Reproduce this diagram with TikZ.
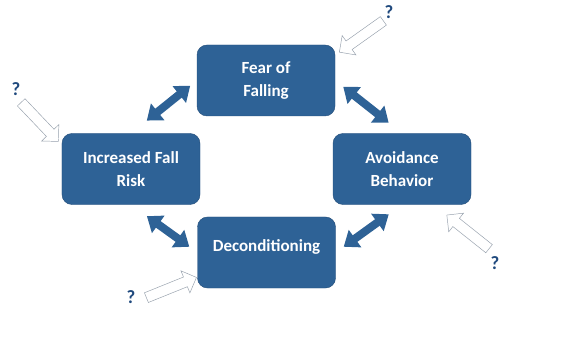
\documentclass[tikz,border=0pt]{standalone}
\usepackage{fontspec}
\setmainfont{Carlito}
\usepackage{tikz}
\usetikzlibrary{arrows.meta,positioning,calc,shapes.arrows}
\usepackage{xcolor}
\definecolor{fofblue}{RGB}{46,98,150}
\definecolor{fofedge}{RGB}{36,78,122}
\definecolor{fofgray}{RGB}{150,160,172}
\definecolor{fofmark}{RGB}{31,73,125}

\begin{document}
\begin{tikzpicture}[x=0.03cm,y=-0.03cm,
    box/.style={draw=fofedge,fill=fofblue,rounded corners=0.3cm,minimum width=4.14cm,minimum height=2.13cm,align=center,text=white,font=\fontsize{14.5}{19.5}\selectfont\bfseries},
    link/.style={fofblue,line width=0.24cm,{Triangle[width=0.62cm,length=0.42cm]}-{Triangle[width=0.62cm,length=0.42cm]}},
    hollow/.style={single arrow,draw=fofgray,fill=white,thin,inner sep=0pt,inner ysep=0.15cm,minimum height=1.62cm,single arrow head extend=0.2cm,sloped,allow upside down},
    qmark/.style={text=fofmark,font=\fontsize{16}{16}\selectfont\bfseries}
]
\useasboundingbox (0,0) rectangle (572,349);
\node[box] (fear) at (266,80.5) {Fear of\\Falling};
\node[box] (risk) at (131,169) {Increased Fall\\Risk};
\node[box] (avoid) at (402,169) {Avoidance\\Behavior};
\node[box] (decond) at (266.5,252.5) {Deconditioning\\[-7.5pt]~};
% double arrows round the loop
\draw[link] ($(risk.north)!0.24!(fear.west)$) -- ($(risk.north)!0.9!(fear.west)$);
\draw[link] ($(fear.east)!0.12!(avoid.north)$) -- ($(fear.east)!0.8!(avoid.north)$);
\draw[link] ($(risk.south)!0.24!(decond.west)$) -- ($(risk.south)!0.88!(decond.west)$);
\draw[link] ($(decond.east)!0.12!(avoid.south)$) -- ($(decond.east)!0.8!(avoid.south)$);
% question marks and open arrows
\node[qmark] (q1) at (389,12) {?};
\node[qmark] (q2) at (16,89) {?};
\node[qmark] (q3) at (131,297) {?};
\node[qmark] (q4) at (495,263) {?};
\coordinate (t1) at (386,19);
\coordinate (h1) at (341,51);
\coordinate (t2) at (18,99);
\coordinate (h2) at (58,141);
\coordinate (t3) at (143,299);
\coordinate (h3) at (195,278);
\coordinate (t4) at (492,251);
\coordinate (h4) at (448,216);
\path (t1) -- node[hollow] (a1) {} (h1);
\path (t2) -- node[hollow] (a2) {} (h2);
\path (t3) -- node[hollow] (a3) {} (h3);
\path (t4) -- node[hollow] (a4) {} (h4);
\end{tikzpicture}
\end{document}
